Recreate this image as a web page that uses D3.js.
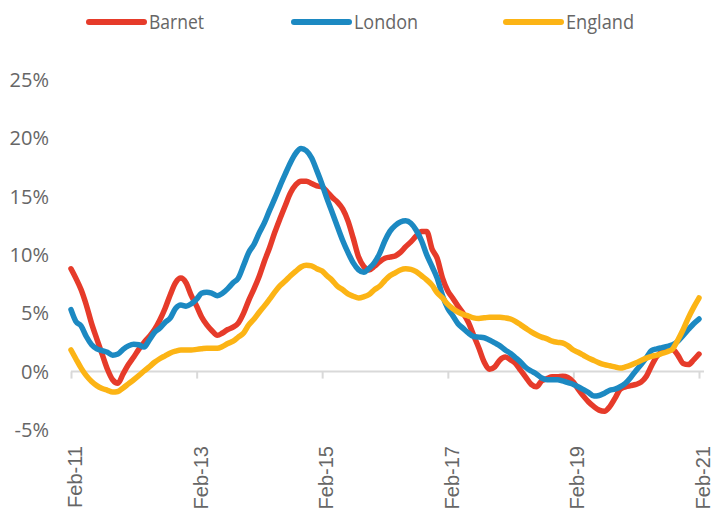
<!DOCTYPE html>
<head>
  <script src="https://cdn.jsdelivr.net/npm/d3@7"></script>
  <title>House price change</title>
  <style>
    html, body { margin: 0; background: #fff; }
    svg { display: block; }
    .ylab { font-family: "Open Sans", sans-serif; font-size: 20px; fill: #666; }
    .xlab { font-family: "Liberation Sans", Arial, sans-serif; font-size: 20px; fill: #666; }
    .leg { font-family: "Open Sans", sans-serif; font-size: 20px; fill: #666; }
  </style>
</head>
<body>
<div id="chart"></div>
<script>
  // monthly annual change (%), Feb-11 .. Feb-21
  const startMonth = "Feb-11";
  const barnet = [
    8.8, 8.0, 7.0, 5.7, 4.1, 2.8, 1.5, 0.2, -0.7, -1.0,
    -0.2, 0.6, 1.25, 1.9, 2.5, 3.0, 3.6, 4.4, 5.4, 6.6,
    7.6, 8.0, 7.6, 6.5, 5.6, 4.7, 4.0, 3.5, 3.1, 3.3,
    3.6, 3.8, 4.15, 5.0, 6.1, 7.1, 8.2, 9.4, 10.6, 11.9,
    13.1, 14.2, 15.3, 16.0, 16.3, 16.3, 16.1, 15.9, 15.8, 15.4,
    14.9, 14.5, 13.9, 12.9, 11.4, 9.8, 9.0, 8.7, 9.0, 9.4,
    9.7, 9.8, 9.9, 10.2, 10.7, 11.1, 11.6, 12.0, 12.0, 10.5,
    9.7, 8.0, 6.9, 6.3, 5.6, 5.0, 4.2, 3.1, 2.0, 0.8,
    0.2, 0.4, 1.0, 1.25, 1.0, 0.7, 0.1, -0.5, -1.1, -1.3,
    -0.8, -0.6, -0.45, -0.45, -0.4, -0.5, -0.9, -1.5, -2.1, -2.6,
    -3.0, -3.3, -3.4, -3.0, -2.3, -1.5, -1.3, -1.2, -1.1, -0.9,
    -0.4, 0.5, 1.3, 1.7, 1.8, 1.9, 1.4, 0.7, 0.6, 1.0,
    1.5
  ];
  const london = [
    5.3, 4.3, 3.9, 3.0, 2.3, 1.95, 1.8, 1.65, 1.4, 1.5,
    1.9, 2.2, 2.35, 2.3, 2.1, 2.7, 3.35, 3.7, 4.2, 4.6,
    5.4, 5.7, 5.6, 5.8, 6.2, 6.7, 6.8, 6.7, 6.5, 6.7,
    7.1, 7.6, 8.0, 9.1, 10.2, 10.9, 11.9, 12.7, 13.8, 14.8,
    15.9, 16.9, 17.9, 18.7, 19.1, 18.9, 18.3, 17.2, 16.0, 14.8,
    13.6, 12.4, 11.2, 10.2, 9.3, 8.7, 8.5, 8.85, 9.3, 10.1,
    11.2, 12.0, 12.5, 12.8, 12.9, 12.7, 12.1, 11.2, 10.0, 9.0,
    8.0, 6.5, 5.4, 4.8, 4.1, 3.7, 3.3, 3.0, 2.95, 2.9,
    2.7, 2.45, 2.2, 1.85, 1.55, 1.2, 0.8, 0.35, 0.05, -0.2,
    -0.55, -0.7, -0.7, -0.7, -0.8, -0.95, -1.1, -1.3, -1.55, -1.8,
    -2.1, -2.05, -1.85, -1.6, -1.5, -1.3, -1.0, -0.5, 0.1, 0.6,
    1.2, 1.8, 1.95, 2.05, 2.15, 2.3, 2.6, 3.1, 3.6, 4.1,
    4.5
  ];
  const england = [
    1.85, 1.1, 0.3, -0.35, -0.85, -1.2, -1.45, -1.6, -1.75, -1.7,
    -1.4, -1.05, -0.7, -0.35, 0.05, 0.4, 0.8, 1.1, 1.35, 1.6,
    1.75, 1.85, 1.85, 1.85, 1.9, 1.95, 2.0, 2.0, 2.0, 2.15,
    2.4, 2.6, 2.95, 3.3, 4.0, 4.5, 5.1, 5.6, 6.2, 6.8,
    7.35, 7.75, 8.2, 8.6, 8.95, 9.1, 9.05, 8.8, 8.6, 8.2,
    7.8, 7.3, 7.0, 6.65, 6.45, 6.3, 6.4, 6.6, 7.0, 7.3,
    7.8, 8.2, 8.45, 8.7, 8.8, 8.75, 8.55, 8.2, 7.85, 7.4,
    6.75, 6.3, 5.75, 5.4, 5.1, 4.9, 4.75, 4.6, 4.55, 4.6,
    4.65, 4.65, 4.65, 4.6, 4.5, 4.3, 4.0, 3.7, 3.4, 3.15,
    2.95, 2.8, 2.6, 2.5, 2.45, 2.2, 1.85, 1.65, 1.4, 1.15,
    0.95, 0.75, 0.6, 0.5, 0.4, 0.3, 0.4, 0.55, 0.75, 0.95,
    1.15, 1.3, 1.4, 1.55, 1.7, 1.95, 2.7, 3.6, 4.6, 5.5,
    6.3
  ];
  const seriesNames = ["Barnet", "London", "England"];
  const seriesColors = ["#e63b2a", "#1c89c2", "#fcb415"];
  const xTickLabels = ["Feb-11", "Feb-13", "Feb-15", "Feb-17", "Feb-19", "Feb-21"];
  const yTicks = [-5, 0, 5, 10, 15, 20, 25];

  const width = 711, height = 513;
  const parse = d3.timeParse("%b-%y");
  const start = parse(startMonth);
  const monthDate = i => d3.timeMonth.offset(start, i);

  const x = d3.scaleTime()
    .domain([parse(xTickLabels[0]), parse(xTickLabels[xTickLabels.length - 1])])
    .range([71, 699]);
  const y = d3.scaleLinear().domain([-5, 25]).range([430, 79.5]);

  const svg = d3.select("#chart").append("svg")
    .attr("width", width).attr("height", height);

  // y labels, no axis line
  svg.append("g").selectAll("text")
    .data(yTicks)
    .join("text")
      .attr("class", "ylab")
      .attr("x", 49)
      .attr("y", d => y(d))
      .attr("dy", "0.36em")
      .attr("text-anchor", "end")
      .text(d => d + "%");

  // x axis at zero
  const xAxis = d3.axisBottom(x)
    .tickValues(xTickLabels.map(parse))
    .tickSize(7)
    .tickFormat("");
  const gx = svg.append("g")
    .attr("transform", `translate(0,${y(0)})`)
    .call(xAxis);
  gx.select(".domain").attr("d", `M71,0H704`);
  gx.selectAll("path, line").attr("stroke", "#d9d9d9").attr("stroke-width", 2);

  svg.append("g").selectAll("text")
    .data(xTickLabels)
    .join("text")
      .attr("class", "xlab")
      .attr("transform", d => `translate(${x(parse(d)) + 4},446) rotate(-90)`)
      .attr("dy", "0.35em")
      .attr("text-anchor", "end")
      .text(d => d);

  const line = d3.line()
    .x((d, i) => x(monthDate(i)))
    .y(d => y(d))
    .curve(d3.curveMonotoneX);

  // Barnet first, London over it, England on top
  const series = [barnet, london, england];
  svg.append("g").selectAll("path")
    .data(series)
    .join("path")
      .attr("d", line)
      .attr("fill", "none")
      .attr("stroke", (d, i) => seriesColors[i])
      .attr("stroke-width", 5.5)
      .attr("stroke-linecap", "round")
      .attr("stroke-linejoin", "round");

  // legend
  const legX = [89, 294, 506];
  const legW = [55, 64, 68];
  const leg = svg.append("g").selectAll("g")
    .data(seriesNames)
    .join("g")
      .attr("transform", (d, i) => `translate(${legX[i]},22)`);
  leg.append("line")
    .attr("x1", 0).attr("x2", 55)
    .attr("stroke", (d, i) => seriesColors[i])
    .attr("stroke-width", 6)
    .attr("stroke-linecap", "round");
  leg.append("text")
    .attr("class", "leg")
    .attr("x", 60)
    .attr("y", 7)
    .attr("textLength", (d, i) => legW[i])
    .attr("lengthAdjust", "spacingAndGlyphs")
    .text(d => d);
</script>
</body>
